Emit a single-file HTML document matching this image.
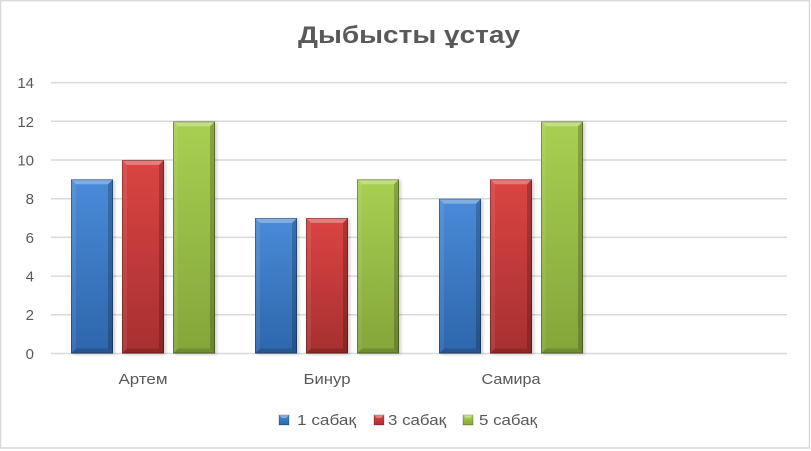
<!DOCTYPE html>
<html><head><meta charset="utf-8"><style>
html,body{margin:0;padding:0;background:#fff;}
svg{display:block;}
text{font-family:"Liberation Sans",Arial,sans-serif;fill:#595959;}
</style></head><body>
<svg width="811" height="451" viewBox="0 0 811 451" xmlns="http://www.w3.org/2000/svg">
<defs>
<linearGradient id="gB" x1="0" y1="0" x2="0" y2="1"><stop offset="0" stop-color="#4a8bd8"/><stop offset="1" stop-color="#2d66ab"/></linearGradient>
<linearGradient id="gR" x1="0" y1="0" x2="0" y2="1"><stop offset="0" stop-color="#db4442"/><stop offset="1" stop-color="#a63030"/></linearGradient>
<linearGradient id="gG" x1="0" y1="0" x2="0" y2="1"><stop offset="0" stop-color="#a8d052"/><stop offset="1" stop-color="#84a53a"/></linearGradient>
<filter id="sh" x="-20%" y="-5%" width="140%" height="110%"><feGaussianBlur stdDeviation="1.5"/></filter>
</defs>
<rect x="0" y="0" width="811" height="451" fill="#fff"/>
<rect x="0.5" y="0.5" width="809" height="447.5" fill="none" stroke="#d9d9d9" stroke-width="1.5"/>

<text x="409" y="43" text-anchor="middle" font-size="24" font-weight="bold" textLength="222" lengthAdjust="spacingAndGlyphs">Дыбысты ұстау</text>

<g stroke="#d9d9d9" stroke-width="1.5">
<line x1="51" x2="787" y1="82.6" y2="82.6"/>
<line x1="51" x2="787" y1="121.3" y2="121.3"/>
<line x1="51" x2="787" y1="160" y2="160"/>
<line x1="51" x2="787" y1="198.7" y2="198.7"/>
<line x1="51" x2="787" y1="237.4" y2="237.4"/>
<line x1="51" x2="787" y1="276.1" y2="276.1"/>
<line x1="51" x2="787" y1="314.8" y2="314.8"/>
<line x1="51" x2="787" y1="353.5" y2="353.5"/>
</g>

<g font-size="15" text-anchor="end">
<text x="34" y="88">14</text>
<text x="34" y="127">12</text>
<text x="34" y="165.5">10</text>
<text x="34" y="204">8</text>
<text x="34" y="243">6</text>
<text x="34" y="281.5">4</text>
<text x="34" y="320">2</text>
<text x="34" y="359">0</text>
</g>

<!-- Bars -->
<!-- Artem blue -->
<g transform="translate(71,0)">
<rect x="2" y="180.3" width="42" height="174.2" fill="#000" opacity=".18" filter="url(#sh)"/>
<rect x="0" y="179.3" width="42" height="174.2" fill="url(#gB)"/>
<polygon points="0,179.3 42,179.3 37,184.3 5,184.3" fill="#fff" opacity=".3"/>
<polygon points="0,179.3 5,184.3 5,348.5 0,353.5" fill="#fff" opacity=".08"/>
<polygon points="42,179.3 37,184.3 37,348.5 42,353.5" fill="#000" opacity=".2"/>
<polygon points="0,353.5 5,348.5 37,348.5 42,353.5" fill="#000" opacity=".15"/>
<rect x=".5" y="179.8" width="41" height="173.2" fill="none" stroke="#000" stroke-opacity=".3"/>
</g>
<!-- Artem red -->
<g transform="translate(122,0)">
<rect x="2" y="161" width="42" height="193.5" fill="#000" opacity=".18" filter="url(#sh)"/>
<rect x="0" y="160" width="42" height="193.5" fill="url(#gR)"/>
<polygon points="0,160 42,160 37,165 5,165" fill="#fff" opacity=".3"/>
<polygon points="0,160 5,165 5,348.5 0,353.5" fill="#fff" opacity=".08"/>
<polygon points="42,160 37,165 37,348.5 42,353.5" fill="#000" opacity=".2"/>
<polygon points="0,353.5 5,348.5 37,348.5 42,353.5" fill="#000" opacity=".15"/>
<rect x=".5" y="160.5" width="41" height="192.5" fill="none" stroke="#000" stroke-opacity=".3"/>
</g>
<!-- Artem green -->
<g transform="translate(173,0)">
<rect x="2" y="122.3" width="42" height="232.2" fill="#000" opacity=".18" filter="url(#sh)"/>
<rect x="0" y="121.3" width="42" height="232.2" fill="url(#gG)"/>
<polygon points="0,121.3 42,121.3 37,126.3 5,126.3" fill="#fff" opacity=".3"/>
<polygon points="0,121.3 5,126.3 5,348.5 0,353.5" fill="#fff" opacity=".08"/>
<polygon points="42,121.3 37,126.3 37,348.5 42,353.5" fill="#000" opacity=".2"/>
<polygon points="0,353.5 5,348.5 37,348.5 42,353.5" fill="#000" opacity=".15"/>
<rect x=".5" y="121.8" width="41" height="231.2" fill="none" stroke="#000" stroke-opacity=".3"/>
</g>

<!-- Binur blue -->
<g transform="translate(255,0)">
<rect x="2" y="219" width="42" height="135.5" fill="#000" opacity=".18" filter="url(#sh)"/>
<rect x="0" y="218" width="42" height="135.5" fill="url(#gB)"/>
<polygon points="0,218 42,218 37,223 5,223" fill="#fff" opacity=".3"/>
<polygon points="0,218 5,223 5,348.5 0,353.5" fill="#fff" opacity=".08"/>
<polygon points="42,218 37,223 37,348.5 42,353.5" fill="#000" opacity=".2"/>
<polygon points="0,353.5 5,348.5 37,348.5 42,353.5" fill="#000" opacity=".15"/>
<rect x=".5" y="218.5" width="41" height="134.5" fill="none" stroke="#000" stroke-opacity=".3"/>
</g>
<!-- Binur red -->
<g transform="translate(306,0)">
<rect x="2" y="219" width="42" height="135.5" fill="#000" opacity=".18" filter="url(#sh)"/>
<rect x="0" y="218" width="42" height="135.5" fill="url(#gR)"/>
<polygon points="0,218 42,218 37,223 5,223" fill="#fff" opacity=".3"/>
<polygon points="0,218 5,223 5,348.5 0,353.5" fill="#fff" opacity=".08"/>
<polygon points="42,218 37,223 37,348.5 42,353.5" fill="#000" opacity=".2"/>
<polygon points="0,353.5 5,348.5 37,348.5 42,353.5" fill="#000" opacity=".15"/>
<rect x=".5" y="218.5" width="41" height="134.5" fill="none" stroke="#000" stroke-opacity=".3"/>
</g>
<!-- Binur green -->
<g transform="translate(357,0)">
<rect x="2" y="180.3" width="42" height="174.2" fill="#000" opacity=".18" filter="url(#sh)"/>
<rect x="0" y="179.3" width="42" height="174.2" fill="url(#gG)"/>
<polygon points="0,179.3 42,179.3 37,184.3 5,184.3" fill="#fff" opacity=".3"/>
<polygon points="0,179.3 5,184.3 5,348.5 0,353.5" fill="#fff" opacity=".08"/>
<polygon points="42,179.3 37,184.3 37,348.5 42,353.5" fill="#000" opacity=".2"/>
<polygon points="0,353.5 5,348.5 37,348.5 42,353.5" fill="#000" opacity=".15"/>
<rect x=".5" y="179.8" width="41" height="173.2" fill="none" stroke="#000" stroke-opacity=".3"/>
</g>

<!-- Samira blue -->
<g transform="translate(439,0)">
<rect x="2" y="199.7" width="42" height="154.8" fill="#000" opacity=".18" filter="url(#sh)"/>
<rect x="0" y="198.7" width="42" height="154.8" fill="url(#gB)"/>
<polygon points="0,198.7 42,198.7 37,203.7 5,203.7" fill="#fff" opacity=".3"/>
<polygon points="0,198.7 5,203.7 5,348.5 0,353.5" fill="#fff" opacity=".08"/>
<polygon points="42,198.7 37,203.7 37,348.5 42,353.5" fill="#000" opacity=".2"/>
<polygon points="0,353.5 5,348.5 37,348.5 42,353.5" fill="#000" opacity=".15"/>
<rect x=".5" y="199.2" width="41" height="153.8" fill="none" stroke="#000" stroke-opacity=".3"/>
</g>
<!-- Samira red -->
<g transform="translate(490,0)">
<rect x="2" y="180.3" width="42" height="174.2" fill="#000" opacity=".18" filter="url(#sh)"/>
<rect x="0" y="179.3" width="42" height="174.2" fill="url(#gR)"/>
<polygon points="0,179.3 42,179.3 37,184.3 5,184.3" fill="#fff" opacity=".3"/>
<polygon points="0,179.3 5,184.3 5,348.5 0,353.5" fill="#fff" opacity=".08"/>
<polygon points="42,179.3 37,184.3 37,348.5 42,353.5" fill="#000" opacity=".2"/>
<polygon points="0,353.5 5,348.5 37,348.5 42,353.5" fill="#000" opacity=".15"/>
<rect x=".5" y="179.8" width="41" height="173.2" fill="none" stroke="#000" stroke-opacity=".3"/>
</g>
<!-- Samira green -->
<g transform="translate(541,0)">
<rect x="2" y="122.3" width="42" height="232.2" fill="#000" opacity=".18" filter="url(#sh)"/>
<rect x="0" y="121.3" width="42" height="232.2" fill="url(#gG)"/>
<polygon points="0,121.3 42,121.3 37,126.3 5,126.3" fill="#fff" opacity=".3"/>
<polygon points="0,121.3 5,126.3 5,348.5 0,353.5" fill="#fff" opacity=".08"/>
<polygon points="42,121.3 37,126.3 37,348.5 42,353.5" fill="#000" opacity=".2"/>
<polygon points="0,353.5 5,348.5 37,348.5 42,353.5" fill="#000" opacity=".15"/>
<rect x=".5" y="121.8" width="41" height="231.2" fill="none" stroke="#000" stroke-opacity=".3"/>
</g>

<!-- Category labels -->
<g font-size="15" text-anchor="middle">
<text x="143" y="384" textLength="49" lengthAdjust="spacingAndGlyphs">Артем</text>
<text x="327" y="384" textLength="47" lengthAdjust="spacingAndGlyphs">Бинур</text>
<text x="511" y="384" textLength="59" lengthAdjust="spacingAndGlyphs">Самира</text>
</g>

<!-- Legend -->
<g>
<rect x="279" y="415" width="10" height="10" fill="url(#gB)" stroke="#000" stroke-opacity=".3" stroke-width=".8"/>
<polygon points="279,415 289,415 286,418 282,418" fill="#fff" opacity=".35"/>
<text x="297" y="425" font-size="15" textLength="59" lengthAdjust="spacingAndGlyphs">1 сабақ</text>
<rect x="374" y="415" width="10" height="10" fill="url(#gR)" stroke="#000" stroke-opacity=".3" stroke-width=".8"/>
<polygon points="374,415 384,415 381,418 377,418" fill="#fff" opacity=".35"/>
<text x="388" y="425" font-size="15" textLength="58" lengthAdjust="spacingAndGlyphs">3 сабақ</text>
<rect x="463" y="415" width="10" height="10" fill="url(#gG)" stroke="#000" stroke-opacity=".3" stroke-width=".8"/>
<polygon points="463,415 473,415 470,418 466,418" fill="#fff" opacity=".35"/>
<text x="479" y="425" font-size="15" textLength="58" lengthAdjust="spacingAndGlyphs">5 сабақ</text>
</g>
</svg>
</body></html>
